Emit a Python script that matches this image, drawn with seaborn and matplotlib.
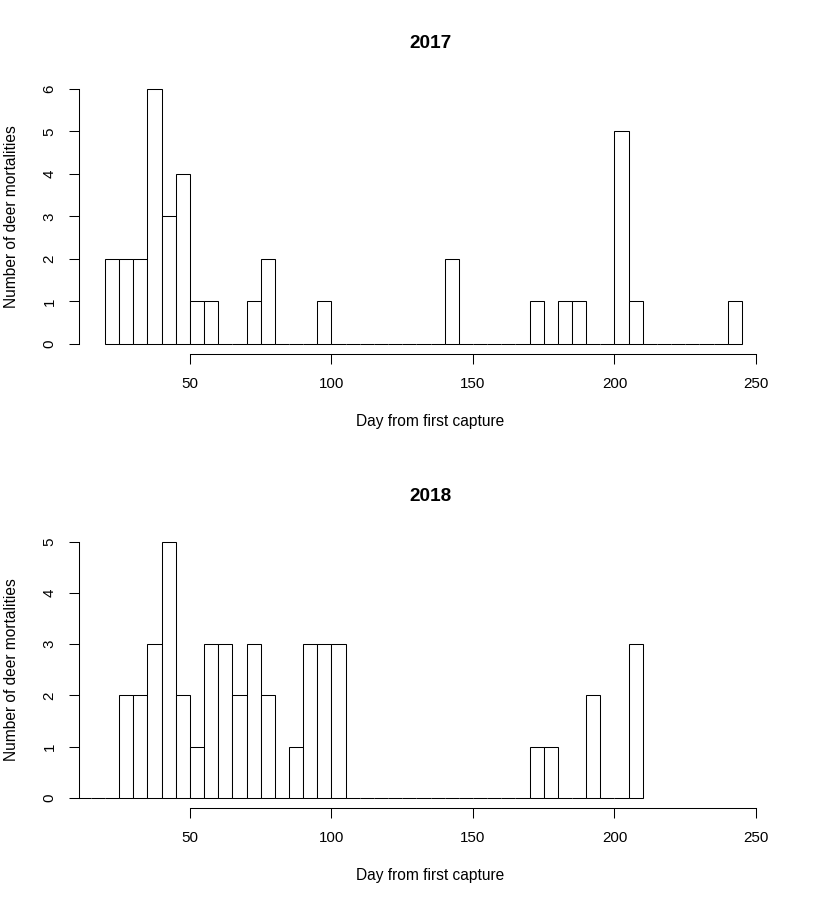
import numpy as np
import pandas as pd
import seaborn as sns
import matplotlib
matplotlib.use("Agg")
import matplotlib.pyplot as plt

# bins of 5 days (left edges), counts
bins_2017 = list(range(20, 245, 5))
counts_2017 = [2, 2, 2, 6, 3, 4, 1, 1, 0, 0, 1, 2, 0, 0, 0, 1,
               0, 0, 0, 0, 0, 0, 0, 0, 2, 0, 0, 0, 0, 0,
               1, 0, 1, 1, 0, 0, 5, 1, 0, 0, 0, 0, 0, 0, 1]

bins_2018 = list(range(10, 210, 5))
counts_2018 = [0, 0, 0, 2, 2, 3, 5, 2, 1, 3, 3, 2, 3, 2, 0, 1, 3, 3, 3,
               0, 0, 0, 0, 0, 0, 0, 0, 0, 0, 0, 0, 0,
               1, 1, 0, 0, 2, 0, 0, 3]

xticks = [50, 100, 150, 200, 250]
titles = ["2017", "2018"]
xlab = "Day from first capture"
ylab = "Number of deer mortalities"

sns.set_style("ticks")
plt.rcParams["font.family"] = ["Liberation Sans", "DejaVu Sans"]
plt.rcParams["axes.linewidth"] = 0.75
for k in ["text.color", "axes.labelcolor", "xtick.color", "ytick.color", "axes.edgecolor"]:
    plt.rcParams[k] = "black"

W, H = 823, 906
fig = plt.figure(figsize=(W / 100, H / 100), dpi=100)

# axes boxes in pixels: left, top, right, bottom
boxes = [(79, 78.8, 782, 354.2), (79, 531.5, 782, 808)]
data = [(bins_2017, counts_2017), (bins_2018, counts_2018)]

for (l, t, r, b), (edges, counts), title in zip(boxes, data, titles):
    ax = fig.add_axes([l / W, 1 - b / H, (r - l) / W, (b - t) / H])
    df = pd.DataFrame({"day": [e + 2.5 for e in edges], "n": counts})
    sns.histplot(data=df, x="day", weights="n", bins=edges + [edges[-1] + 5],
                 color="white", edgecolor="black", linewidth=0.75, alpha=1,
                 ax=ax)
    ymax = max(counts)
    ax.set_xlim(10.8, 259.2)
    ax.set_ylim(-0.04 * ymax, 1.04 * ymax)
    ax.set_xticks(xticks)
    ax.set_yticks(range(0, ymax + 1))
    for s in ["top", "right"]:
        ax.spines[s].set_visible(False)
    ax.spines["bottom"].set_bounds(50, 250)
    ax.spines["left"].set_bounds(0, ymax)
    ax.tick_params(length=7.2, width=0.75, color="black", labelsize=10.9)
    ax.tick_params(axis="x", pad=9.5)
    ax.tick_params(axis="y", labelrotation=90, pad=9.0)
    for lbl in ax.get_yticklabels():
        lbl.set_va("center")
    ax.set_title(title, fontsize=13.7, fontweight="bold", pad=22)
    ax.set_xlabel(xlab, fontsize=11.2)
    ax.set_ylabel(ylab, fontsize=11.2)
    ax.xaxis.set_label_coords(0.5, -60 / (b - t))
    ax.yaxis.set_label_coords((19.5 - l) / (r - l), 0.5)

fig.savefig("out.png", dpi=100)
